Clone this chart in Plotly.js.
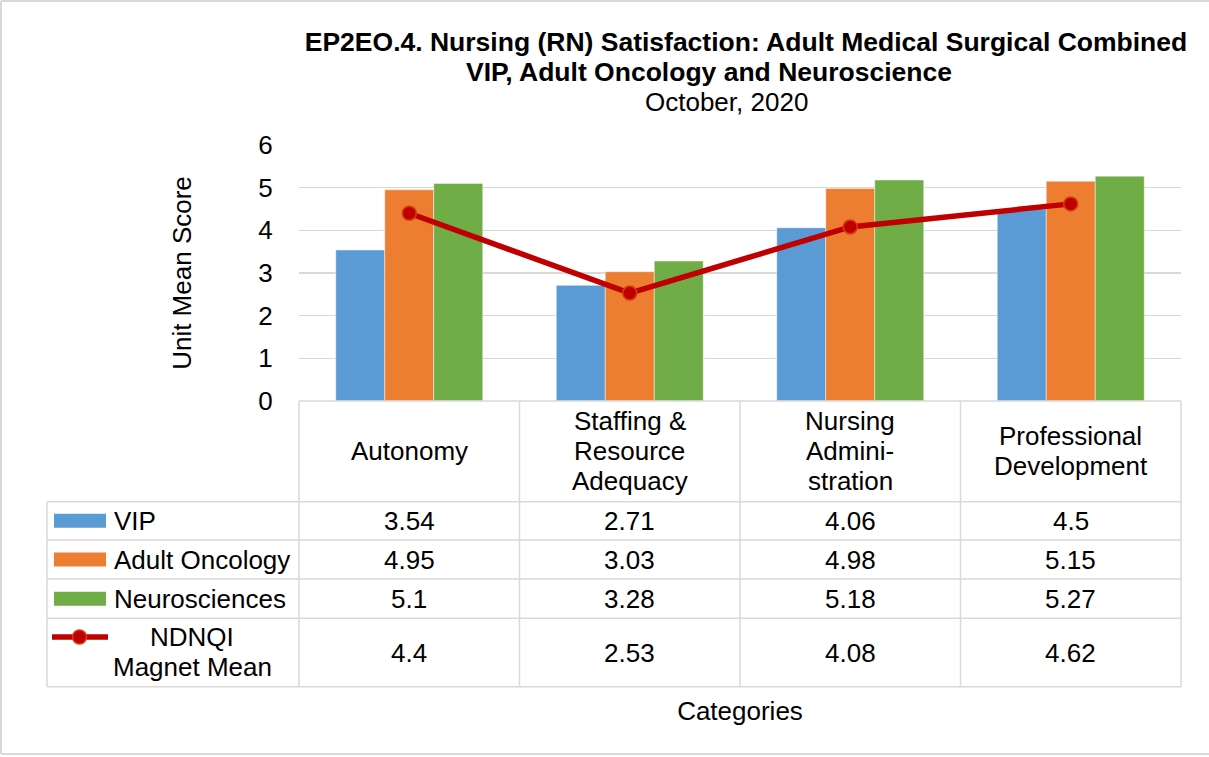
<!DOCTYPE html>
<html>
<head>
<meta charset="utf-8">
<script src="https://cdn.plot.ly/plotly-3.0.1.min.js"></script>
<style>
  html, body { margin: 0; padding: 0; background: #fff; }
  #chart { width: 1209px; height: 757px; }
</style>
</head>
<body>
<div id="chart"></div>
<script>
// ---- data ----
const categories = ['Autonomy', 'Staffing & Resource Adequacy', 'Nursing Administration', 'Professional Development'];
const categoryLabelLines = [['Autonomy'], ['Staffing &', 'Resource', 'Adequacy'], ['Nursing', 'Admini-', 'stration'], ['Professional', 'Development']];
const seriesNames = ['VIP', 'Adult Oncology', 'Neurosciences', 'NDNQI Magnet Mean'];
const vip = [3.54, 2.71, 4.06, 4.5];
const adultOncology = [4.95, 3.03, 4.98, 5.15];
const neurosciences = [5.1, 3.28, 5.18, 5.27];
const ndnqiMagnetMean = [4.4, 2.53, 4.08, 4.62];
const titleLines = ['EP2EO.4. Nursing (RN) Satisfaction: Adult Medical Surgical Combined', 'VIP, Adult Oncology and Neuroscience', 'October, 2020'];
const yAxisTitle = 'Unit Mean Score';
const xAxisTitle = 'Categories';

// ---- styles / geometry ----
const FONT = 'Liberation Sans, Arial, Helvetica, sans-serif';
const FS = 26;
const colors = ['#5B9BD5', '#ED7D31', '#70AD47', '#C00000'];
const GRID = '#d9d9d9';
const W = 1209, H = 757;
const L = 299, R = 1181, T = 145, B = 401;
const PW = R - L, PH = B - T;
const px = x => (x - L) / PW;
const py = y => (B - y) / PH;

const barTraces = [vip, adultOncology, neurosciences].map((vals, i) => ({
  type: 'bar',
  name: seriesNames[i],
  x: categories,
  y: vals,
  marker: { color: colors[i], line: { color: 'rgba(255,255,255,0.45)', width: 1 } },
  hoverinfo: 'x+y+name',
  showlegend: false
}));
const lineTrace = {
  type: 'scatter',
  mode: 'lines+markers',
  name: seriesNames[3],
  x: categories,
  y: ndnqiMagnetMean,
  line: { color: colors[3], width: 5.5 },
  marker: { color: colors[3], size: 14, line: { color: '#D2420A', width: 1.5 } },
  showlegend: false
};

// ---- table (data table below the plot) ----
const shapes = [];
const annotations = [];
function hline(y, x0, x1, w) {
  shapes.push({ type: 'line', xref: 'paper', yref: 'paper', x0: px(x0), x1: px(x1), y0: py(y), y1: py(y), line: { color: GRID, width: w || 1.5 } });
}
function vline(x, y0, y1, w) {
  shapes.push({ type: 'line', xref: 'paper', yref: 'paper', x0: px(x), x1: px(x), y0: py(y0), y1: py(y1), line: { color: GRID, width: w || 1.5 } });
}
function txt(x, y, text, opts) {
  annotations.push(Object.assign({
    xref: 'paper', yref: 'paper', x: px(x), y: py(y), text: text, showarrow: false,
    xanchor: 'center', yanchor: 'middle', font: { family: FONT, size: FS, color: '#000' }
  }, opts || {}));
}

const colEdges = [299, 519.5, 740, 960.5, 1181];
const rowEdges = [501.7, 540, 579, 618.3, 686.7];
const legendLeft = 47;

hline(B, L, R);
rowEdges.forEach(y => hline(y, legendLeft, R));
vline(legendLeft, rowEdges[0], rowEdges[rowEdges.length - 1]);
colEdges.forEach(x => vline(x, B, rowEdges[rowEdges.length - 1]));

// outer chart border
shapes.push({ type: 'line', xref: 'paper', yref: 'paper', x0: px(1), x1: px(1), y0: py(1), y1: py(754), line: { color: GRID, width: 2 } });
shapes.push({ type: 'line', xref: 'paper', yref: 'paper', x0: px(1), x1: px(1209), y0: py(1), y1: py(1), line: { color: GRID, width: 2 } });
shapes.push({ type: 'line', xref: 'paper', yref: 'paper', x0: px(1), x1: px(1209), y0: py(754), y1: py(754), line: { color: GRID, width: 2 } });

const colCenters = categories.map((c, i) => (colEdges[i] + colEdges[i + 1]) / 2);
const catRowCenter = (B + rowEdges[0]) / 2;
categoryLabelLines.forEach((lines, i) => {
  lines.forEach((ln, j) => {
    txt(colCenters[i], catRowCenter + (j - (lines.length - 1) / 2) * 30, ln);
  });
});

const seriesVals = [vip, adultOncology, neurosciences, ndnqiMagnetMean];
seriesVals.forEach((vals, r) => {
  const cy = (rowEdges[r] + rowEdges[r + 1]) / 2;
  vals.forEach((v, i) => txt(colCenters[i], cy, String(v)));
  if (r < 3) {
    shapes.push({ type: 'rect', xref: 'paper', yref: 'paper', x0: px(54), x1: px(106), y0: py(cy - 7), y1: py(cy + 7), fillcolor: colors[r], line: { width: 0 } });
    txt(112, cy, seriesNames[r], { xanchor: 'left' });
  }
});
// NDNQI legend key + label
{
  const cy = 637;
  shapes.push({ type: 'line', xref: 'paper', yref: 'paper', x0: px(52), x1: px(108), y0: py(cy), y1: py(cy), line: { color: colors[3], width: 5.5 } });
  shapes.push({ type: 'circle', xref: 'paper', yref: 'paper', x0: px(72.5), x1: px(86.5), y0: py(cy - 7), y1: py(cy + 7), fillcolor: colors[3], line: { color: '#D2420A', width: 1.5 } });
  txt(192, 637, 'NDNQI');
  txt(192, 667, 'Magnet Mean');
}

// title lines 2 and 3
txt(709, 72, '<b>' + titleLines[1] + '</b>', { font: { family: FONT, size: 26.5, color: '#000' } });
txt(726, 102, titleLines[2]);

const layout = {
  width: W, height: H,
  autosize: false,
  paper_bgcolor: '#fff', plot_bgcolor: '#fff',
  margin: { l: L, r: W - R, t: T, b: H - B, pad: 0 },
  font: { family: FONT, size: FS, color: '#000' },
  title: {
    text: '<b>' + titleLines[0] + '</b>',
    font: { family: FONT, size: 26.5, color: '#000' },
    xref: 'container', yref: 'container',
    x: 746 / W, xanchor: 'center',
    y: 1 - 42 / H, yanchor: 'middle'
  },
  barmode: 'group',
  bargap: 1 / 3,
  bargroupgap: 0,
  showlegend: false,
  xaxis: {
    type: 'category',
    range: [-0.5, 3.5],
    showticklabels: false,
    showgrid: false, zeroline: false, showline: false, ticks: '',
    title: { text: xAxisTitle, font: { family: FONT, size: FS, color: '#000' }, standoff: 300 },
    automargin: false
  },
  yaxis: {
    range: [0, 6],
    dtick: 1,
    tick0: 0,
    showgrid: true, gridcolor: GRID, gridwidth: 1.5,
    zeroline: false, showline: false,
    ticks: 'outside', ticklen: 20, tickcolor: 'rgba(0,0,0,0)',
    tickfont: { family: FONT, size: FS, color: '#000' },
    title: { text: yAxisTitle, font: { family: FONT, size: FS, color: '#000' }, standoff: 59 },
    automargin: false
  },
  shapes: shapes,
  annotations: annotations
};

Plotly.newPlot('chart', barTraces.concat([lineTrace]), layout, { displayModeBar: false, staticPlot: true });
</script>
</body>
</html>
